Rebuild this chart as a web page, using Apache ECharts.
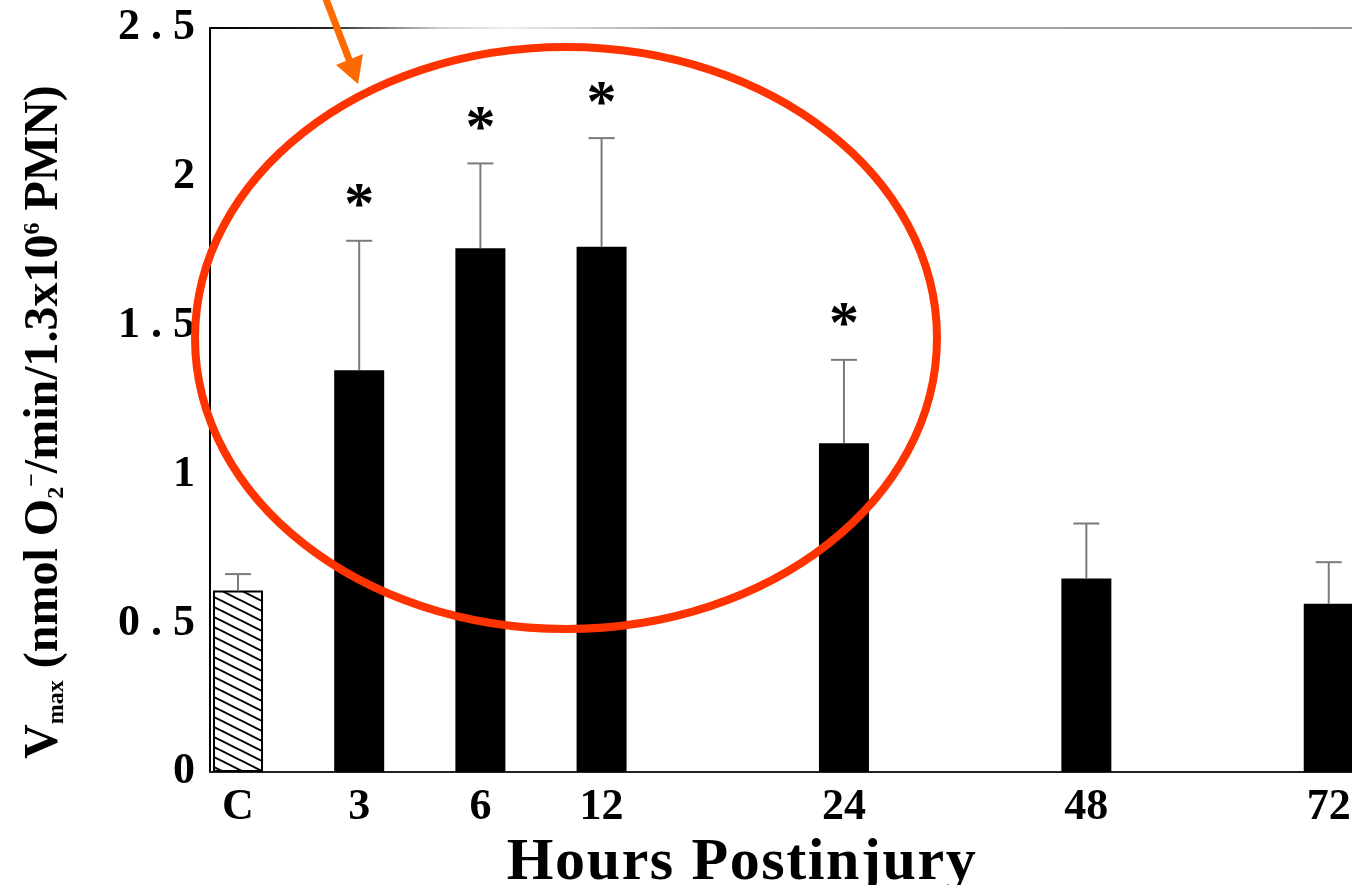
<!DOCTYPE html>
<html><head><meta charset="utf-8">
<script src="https://cdn.jsdelivr.net/npm/echarts@6/dist/echarts.min.js"></script>
<style>html,body{margin:0;padding:0;background:#fff}#c{width:1352px;height:885px}</style>
</head><body><div id="c"></div>
<script>
// ---- data ----
const categories = ['C', '3', '6', '12', '', '24', '', '48', '', '72'];   // '' = empty slot on the axis
const means      = [0.61, 1.35, 1.76, 1.765, null, 1.105, null, 0.65, null, 0.565];
const sems       = [0.055, 0.435, 0.285, 0.365, null, 0.28, null, 0.185, null, 0.14];
const significant = [false, true, true, true, false, true, false, false, false, false];
const yMin = 0, yMax = 2.5, yStep = 0.5;
const xTitle = 'Hours Postinjury';

const SERIF = '"Liberation Serif", "Times New Roman", serif';

function hatchCanvas() {
  const c = document.createElement('canvas');
  c.width = 20; c.height = 10;
  const g = c.getContext('2d');
  g.fillStyle = '#fff'; g.fillRect(0, 0, 20, 10);
  g.strokeStyle = '#000'; g.lineWidth = 2;
  for (let k = -2; k <= 2; k++) {
    g.beginPath(); g.moveTo(-2, k * 10 - 1); g.lineTo(22, k * 10 + 11); g.stroke();
  }
  return c;
}
const hatch = hatchCanvas();

const barData = [];
const errData = [];
categories.forEach((c, i) => {
  if (means[i] == null) return;
  barData.push(c === 'C'
    ? { value: [i, means[i]], itemStyle: { color: { image: hatch, repeat: 'repeat' }, borderColor: '#000', borderWidth: 2 } }
    : { value: [i, means[i]] });
  errData.push([i, means[i], sems[i], significant[i] ? 1 : 0]);
});
const labelSlots = categories.map((c, i) => c ? i : null).filter(v => v !== null);

const xMin = -0.231, xMax = 9.522;

const titleRich = xTitle.split('').map(ch => '{c|' + ch + '}').join('');

const chart = echarts.init(document.getElementById('c'), null, { renderer: 'canvas' });
chart.setOption({
  animation: false,
  backgroundColor: '#fff',
  grid: { left: 210, right: -40, top: 28, bottom: 113, containLabel: false, outerBoundsMode: 'none' },
  xAxis: [{
    type: 'value', min: xMin, max: xMax,
    axisLine: { show: true, onZero: false, lineStyle: { color: '#222', width: 2 } },
    axisTick: { show: false },
    splitLine: { show: false },
    axisLabel: {
      customValues: labelSlots,
      formatter: v => categories[Math.round(v)] || '',
      color: '#000', fontFamily: SERIF, fontWeight: 'bold', fontSize: 44, margin: 14
    }
  }, {
    type: 'value', min: xMin, max: xMax, position: 'top',
    axisLine: { show: true, onZero: false, lineStyle: { width: 2, color: {
      type: 'linear', x: 210, y: 0, x2: 1352, y2: 0, global: true,
      colorStops: [
        { offset: 0, color: '#000' }, { offset: 0.1, color: '#222' },
        { offset: 0.2, color: '#ccc' }, { offset: 0.26, color: '#eee' },
        { offset: 0.4, color: '#aaa' }, { offset: 1, color: '#999' }
      ] } } },
    axisTick: { show: false }, axisLabel: { show: false }, splitLine: { show: false }
  }],
  yAxis: {
    type: 'value', min: yMin, max: yMax, interval: yStep,
    axisLine: { show: true, onZero: false, lineStyle: { color: '#000', width: 2 } },
    axisTick: { show: false },
    splitLine: { show: false },
    axisLabel: {
      color: '#000', fontFamily: SERIF, fontWeight: 'bold', fontSize: 44, margin: 15,
      formatter: v => String(v).split('').join(' ')
    }
  },
  series: [{
    type: 'bar', xAxisIndex: 0, yAxisIndex: 0,
    barWidth: 50,
    itemStyle: { color: '#000' },
    data: barData,
    z: 2
  }, {
    type: 'custom', xAxisIndex: 0, yAxisIndex: 0,
    data: errData,
    z: 3,
    renderItem(params, api) {
      const x = api.value(0), m = api.value(1), e = api.value(2), s = api.value(3);
      const p0 = api.coord([x, m]);
      const p1 = api.coord([x, m + e]);
      const children = [
        { type: 'line', shape: { x1: p0[0], y1: p0[1], x2: p1[0], y2: p1[1] }, style: { stroke: '#7a7a7a', lineWidth: 2 } },
        { type: 'line', shape: { x1: p1[0] - 13, y1: p1[1], x2: p1[0] + 13, y2: p1[1] }, style: { stroke: '#7a7a7a', lineWidth: 2 } }
      ];
      if (s) children.push({
        type: 'text', x: p1[0], y: p1[1] - 33,
        style: { text: '*', font: 'bold 60px ' + SERIF, fill: '#000', align: 'center', verticalAlign: 'middle' }
      });
      return { type: 'group', children };
    }
  }],
  graphic: [
    { type: 'ellipse', shape: { cx: 566, cy: 338, rx: 371, ry: 291 }, style: { fill: null, stroke: '#ff3300', lineWidth: 8 }, z: 100 },
    { type: 'line', shape: { x1: 321, y1: -14, x2: 350, y2: 62 }, style: { stroke: '#ff6a00', lineWidth: 7 }, z: 100 },
    { type: 'polygon', shape: { points: [[336, 65], [363, 54], [358, 84]] }, style: { fill: '#ff6a00' }, z: 100 },
    { type: 'text', x: 506, y: 863, style: {
        text: titleRich, font: 'bold 60px ' + SERIF, fill: '#000', align: 'left', verticalAlign: 'middle',
        rich: { c: { fontFamily: SERIF, fontWeight: 'bold', fontSize: 60, fill: '#000', padding: [0, 0.8, 0, 0.8] } }
      }, z: 10 },
    { type: 'text', x: 45, y: 422, rotation: Math.PI / 2,
      style: {
        text: '{m|V}{s|max}{m| (nmol O}{s|2}{p|−}{m|/min/1.3x10}{p|6}{m| PMN)}',
        align: 'center', verticalAlign: 'middle', fill: '#000',
        font: 'bold 48px ' + SERIF,
        rich: {
          m: { fontFamily: SERIF, fontWeight: 'bold', fontSize: 48, fill: '#000' },
          s: { fontFamily: SERIF, fontWeight: 'bold', fontSize: 24, fill: '#000', verticalAlign: 'bottom' },
          p: { fontFamily: SERIF, fontWeight: 'bold', fontSize: 24, fill: '#000', verticalAlign: 'top' }
        }
      }, z: 10 }
  ]
});
</script></body></html>
